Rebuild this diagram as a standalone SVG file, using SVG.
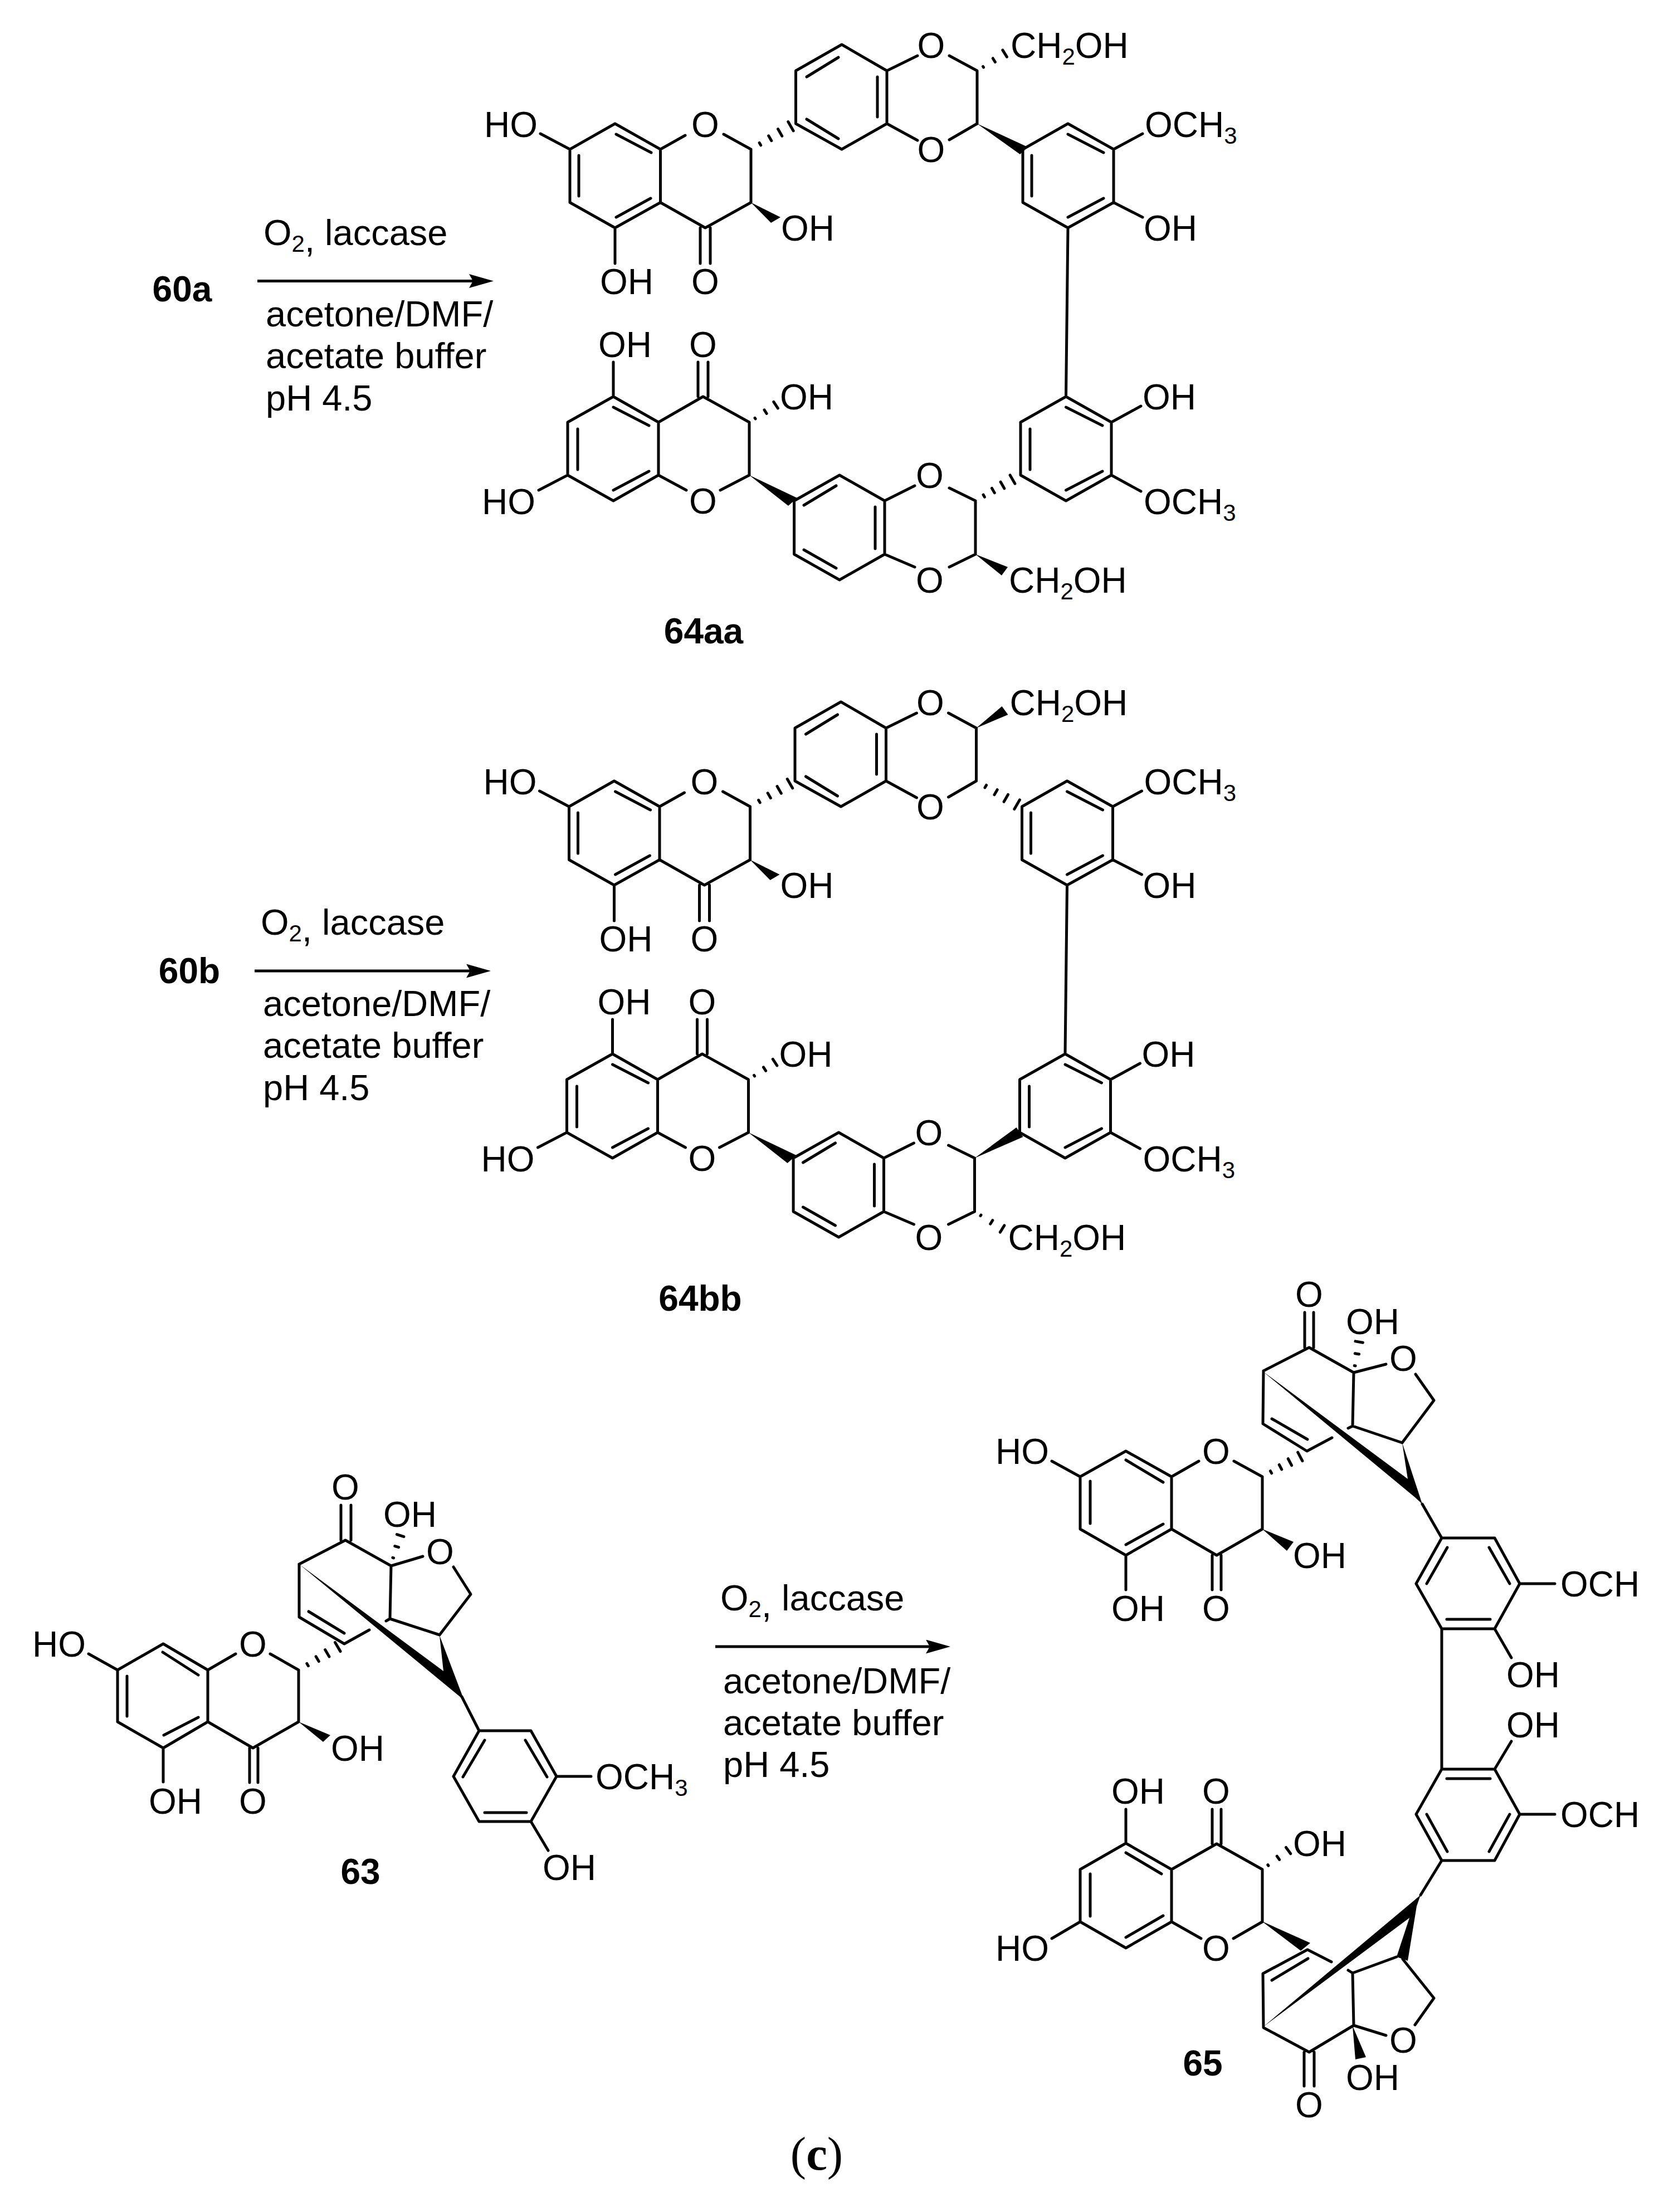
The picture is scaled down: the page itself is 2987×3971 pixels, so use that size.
<svg xmlns="http://www.w3.org/2000/svg" xmlns:xlink="http://www.w3.org/1999/xlink" width="2987" height="3971" viewBox="0 0 2987 3971">
<style>
text{font-family:"Liberation Sans",Arial,sans-serif;fill:#000}
.a{font-size:64px;text-anchor:middle}
.s{font-size:64px}
.r{font-size:65px}
.b{font-size:64px;font-weight:bold;text-anchor:middle}
.u{font-size:42px}
.c{font-family:"Liberation Serif","Times New Roman",serif;font-size:85px;text-anchor:middle}
.bond{fill:none;stroke:#000;stroke-width:5;stroke-linecap:round;stroke-linejoin:round}
.hash{fill:none;stroke:#000;stroke-width:5;stroke-linecap:round;vector-effect:non-scaling-stroke}
.arrow{fill:none;stroke:#000;stroke-width:5}
</style>
<defs>
<marker id="head" markerUnits="userSpaceOnUse" markerWidth="46" markerHeight="26" refX="7" refY="12.5" orient="auto"><path d="M0 0L44 12.5L0 25L7 12.5Z" fill="#000"/></marker>
<path id="h5" class="hash" d="M22 -3V3M46 -6V6M70 -8.5V8.5M96 -11V11"/>
<path id="h3" class="hash" d="M20 -1.5V1.5M55 -6V6M90 -11V11"/>
<path id="skel64" class="bond" d="M1023 268L1104 222L1185.5 268V363.5L1104 409L1023 363.5Z
M1106 241L1169 274M1039 279V352M1168 356L1106 390
M1185.5 268L1230 243M1348 268L1299 241M1348 268V363.5L1266 409L1185.5 363.5
M1257 409V473M1275 409V473M1104 409V473M1023 268L970 240
M1428.5 222V127L1511 80L1592 127V222L1511 268Z
M1448 138L1505 103M1575 138V210M1448 214L1505 249
M1592 127L1647 100M1592 222L1647 252M1754 127L1704 100M1754 222L1704 251M1754 127V222
M1836 268L1917 222L1999 268V363.5L1917 409L1836 363.5Z
M1917 241L1981 274M1852 279V352M1981 356L1917 390
M1999 268L2051 240M1999 363.5L2051 390M1917 409L1913.5 712
M1913.5 712L1995 758V853L1913.5 899L1832 853V758Z
M1913.5 731L1979 764M1979 846L1913.5 880M1849 770V843
M1995 758L2048 729M1995 853L2048 882
M1751 899L1704 876M1588 899L1642 872M1588 995L1642 1018M1751 995L1704 1018M1751 899V995
M1425.6 899L1507 853L1588 899V995L1507 1041L1425.6 995Z
M1443 907L1501 872M1571 910V985M1443 987L1501 1020
M1345 853V758L1262 712L1182 758M1345 853L1293 880M1182 853L1232 880
M1182 758L1101 712L1019 758V853L1101 899L1182 853Z
M1101 731L1165 764M1037 770V843M1165 846L1101 880
M1101 712V650M1253 712V650M1271 712V650M1019 853L967 880"/>
</defs>

<rect width="2987" height="3971" fill="#fff"/>

<g id="reaction-60a">
<text class="b" x="327" y="541">60a</text>
<line class="arrow" x1="462" y1="504.5" x2="849" y2="504.5" marker-end="url(#head)"/>
<text class="r" x="473" y="440">O<tspan class="u" dy="12">2</tspan><tspan>,</tspan><tspan dy="-12"> laccase</tspan></text>
<text class="r" x="477" y="586">acetone/DMF/</text>
<text class="r" x="477" y="661">acetate buffer</text>
<text class="r" x="477" y="737">pH 4.5</text>
</g>

<g id="compound-64aa">
<use href="#skel64" xlink:href="#skel64"/>
<use href="#h5" xlink:href="#h5" transform="translate(1348 268) rotate(-30) scale(.86)"/>
<use href="#h3" xlink:href="#h3" transform="translate(1754 127) rotate(-32) scale(.65)"/>
<use href="#h3" xlink:href="#h3" transform="translate(1345 758) rotate(-33) scale(.63)"/>
<use href="#h5" xlink:href="#h5" transform="translate(1751 899) rotate(-30) scale(.8)"/>
<polygon points="1348,363.5 1401,390 1384,400"/>
<polygon points="1754,222 1845,264 1831,277"/>
<polygon points="1345,853 1431,894 1415,908"/>
<polygon points="1751,995 1809,1018 1798,1033"/>
<text class="a" x="917" y="246">HO</text><text class="a" x="1266" y="246">O</text><text class="a" x="1450" y="432">OH</text><text class="a" x="1125" y="528">OH</text><text class="a" x="1266" y="528">O</text>
<text class="a" x="1671.5" y="104">O</text><text class="a" x="1671.5" y="291">O</text>
<text class="s" x="1814" y="104">CH<tspan class="u" dy="12">2</tspan><tspan dy="-12">OH</tspan></text>
<text class="s" x="2055" y="246">OCH<tspan class="u" dy="12">3</tspan></text>
<text class="a" x="2101" y="432">OH</text>
<text class="a" x="1262" y="641">O</text><text class="a" x="1122" y="641">OH</text><text class="a" x="1448" y="735">OH</text><text class="a" x="913" y="923">HO</text><text class="a" x="1262" y="922">O</text>
<text class="a" x="2099" y="735">OH</text>
<text class="s" x="2053" y="923">OCH<tspan class="u" dy="12">3</tspan></text>
<text class="a" x="1669" y="876">O</text><text class="a" x="1669" y="1064">O</text>
<text class="s" x="1811" y="1064">CH<tspan class="u" dy="12">2</tspan><tspan dy="-12">OH</tspan></text>
<text class="b" x="1263" y="1155">64aa</text>
</g>

<g id="reaction-60b">
<text class="b" x="340" y="1765">60b</text>
<line class="arrow" x1="457" y1="1743" x2="844" y2="1743" marker-end="url(#head)"/>
<text class="r" x="468" y="1678">O<tspan class="u" dy="12">2</tspan><tspan>,</tspan><tspan dy="-12"> laccase</tspan></text>
<text class="r" x="472" y="1824">acetone/DMF/</text>
<text class="r" x="472" y="1899">acetate buffer</text>
<text class="r" x="472" y="1975">pH 4.5</text>
</g>

<g id="compound-64bb">
<g transform="translate(-1.5 1180)">
<use href="#skel64" xlink:href="#skel64"/>
<use href="#h5" xlink:href="#h5" transform="translate(1348 268) rotate(-30) scale(.86)"/>
<use href="#h5" xlink:href="#h5" transform="translate(1754 222) rotate(30) scale(.88)"/>
<use href="#h3" xlink:href="#h3" transform="translate(1345 758) rotate(-33) scale(.63)"/>
<use href="#h3" xlink:href="#h3" transform="translate(1751 995) rotate(32) scale(.65)"/>
<polygon points="1348,363.5 1401,390 1384,400"/>
<polygon points="1754,127 1811,103 1800,88"/>
<polygon points="1345,853 1431,894 1415,908"/>
<polygon points="1751,899 1838,861 1826,844"/>
<text class="a" x="917" y="246">HO</text><text class="a" x="1266" y="246">O</text><text class="a" x="1450" y="432">OH</text><text class="a" x="1125" y="528">OH</text><text class="a" x="1266" y="528">O</text>
<text class="a" x="1671.5" y="104">O</text><text class="a" x="1671.5" y="291">O</text>
<text class="s" x="1814" y="104">CH<tspan class="u" dy="12">2</tspan><tspan dy="-12">OH</tspan></text>
<text class="s" x="2055" y="246">OCH<tspan class="u" dy="12">3</tspan></text>
<text class="a" x="2101" y="432">OH</text>
<text class="a" x="1262" y="641">O</text><text class="a" x="1122" y="641">OH</text><text class="a" x="1448" y="735">OH</text><text class="a" x="913" y="923">HO</text><text class="a" x="1262" y="922">O</text>
<text class="a" x="2099" y="735">OH</text>
<text class="s" x="2053" y="923">OCH<tspan class="u" dy="12">3</tspan></text>
<text class="a" x="1669" y="876">O</text><text class="a" x="1669" y="1064">O</text>
<text class="s" x="1811" y="1064">CH<tspan class="u" dy="12">2</tspan><tspan dy="-12">OH</tspan></text>
</g>
<text class="b" x="1257" y="2353">64bb</text>
</g>

<g id="compound-63">
<path class="bond" d="M211 2998L293 2951L373 2998V3091L293 3138L211 3091Z
M292 2966L356 3007M228 3009V3081M356 3083L294 3115
M373 2998L423 2969M536 2998L485 2969M211 2998L159 2969M536 2998V3091L454 3138L373 3091
M293 3138V3199M448 3138V3200M463 3138V3200
M537 2808V2903L618 2951L663 2926M554 2893L618 2932
M537 2808L620 2765L702 2811L700 2906L789 2935M693 2910L700 2906M612 2765V2702M630 2765V2702
M702 2811L759 2794M814 2813L845 2862L789 2935
M829 3046L860 3107
M860 3107H953L999 3189L953 3270H860L814 3189Z
M870 3124L831 3190M943 3124L982 3190M870 3254H945
M999 3189H1061M953 3270L984 3322"/>
<use href="#h5" xlink:href="#h5" transform="translate(536 2998) rotate(-30.5) scale(.85)"/>
<use href="#h3" xlink:href="#h3" transform="translate(702 2808) rotate(-72) scale(.6)"/>
<polygon points="536,3091 593,3115 580,3127"/>
<polygon points="537,2808 796,3000 789,2936 833,3052"/>
<text class="a" x="106" y="2974">HO</text><text class="a" x="454" y="2974">O</text><text class="a" x="642" y="3161">OH</text><text class="a" x="315" y="3256">OH</text><text class="a" x="454" y="3256">O</text>
<text class="a" x="620" y="2692">O</text><text class="a" x="736" y="2741">OH</text><text class="a" x="790" y="2808">O</text>
<text class="s" x="1069" y="3212">OCH<tspan class="u" dy="12">3</tspan></text>
<text class="a" x="1022" y="3375">OH</text>
<text class="b" x="647" y="3382">63</text>
</g>

<g id="reaction-63-65">
<line class="arrow" x1="1284" y1="2956" x2="1669" y2="2956" marker-end="url(#head)"/>
<text class="r" x="1293" y="2891">O<tspan class="u" dy="12">2</tspan><tspan>,</tspan><tspan dy="-12"> laccase</tspan></text>
<text class="r" x="1298" y="3040">acetone/DMF/</text>
<text class="r" x="1298" y="3115">acetate buffer</text>
<text class="r" x="1298" y="3190">pH 4.5</text>
</g>

<g id="compound-65">
<path class="bond" d="M1939 2651L2021 2605L2103 2651V2745L2021 2792L1939 2745Z
M2021 2621L2088 2661M1957 2659V2735M2088 2736L2021 2773
M2103 2651L2152 2623M2266 2651L2215 2623M1939 2651L1888 2623M2266 2651V2745L2184 2792L2103 2745
M2021 2792V2854M2176 2792V2854M2192 2792V2854
M2268 2461L2267 2556L2346 2605L2391 2581M2283 2547L2347 2584
M2268 2461L2350 2419L2430 2464L2428 2560L2517 2590M2420 2564L2428 2560M2342 2419V2356M2358 2419V2356
M2430 2464L2488 2449M2541 2467L2574 2514L2517 2590
M2553 2700L2588 2761
M2588 2761H2683L2728 2843L2683 2924H2588L2542 2843Z
M2598 2778L2561 2843M2673 2778L2710 2843M2597 2907H2675
M2728 2843H2791M2683 2924L2713 2976M2588 2924V3176
M2588 3176H2683L2728 3257L2683 3340H2588L2542 3257Z
M2597 3193H2675M2710 3257L2673 3324M2598 3324L2561 3257
M2683 3176L2713 3126M2728 3257H2791M2550 3402L2588 3340
M1939 3450L2021 3497L2103 3450V3356L2021 3309L1939 3356Z
M2021 3478L2088 3439M1957 3364V3440M2021 3326L2085 3364
M2103 3450L2156 3480M2266 3450L2214 3480M1939 3450L1888 3480M2266 3450V3356L2184 3310L2103 3356
M2021 3309V3248M2176 3310V3248M2192 3310V3248
M2390 3522L2347 3500L2267 3543L2268 3640L2350 3684L2430 3636M2348 3516L2283 3555
M2341 3684V3745M2359 3684V3745
M2430 3636L2488 3654M2540 3635L2574 3587L2518 3517M2507 3513L2428 3542L2430 3636M2420 3537L2428 3542"/>
<use href="#h5" xlink:href="#h5" transform="translate(2266 2651) rotate(-28) scale(.8)"/>
<use href="#h3" xlink:href="#h3" transform="translate(2430 2464) rotate(-80) scale(.62)"/>
<use href="#h3" xlink:href="#h3" transform="translate(2266 3356) rotate(-36) scale(.64)"/>
<polygon points="2266,2745 2322,2768 2310,2784"/>
<polygon points="2267,2462 2527,2655 2517,2590 2553,2700 2540,2688"/>
<polygon points="2267,3639 2550,3402 2543,3422 2527,3520 2507,3513 2530,3443"/>
<polygon points="2265,3449 2352,3488 2335,3502"/>
<polygon points="2428,3637 2452,3693 2433,3697"/>
<text class="a" x="1835" y="2628">HO</text><text class="a" x="2183" y="2628">O</text><text class="a" x="2369" y="2815">OH</text><text class="a" x="2043" y="2910">OH</text><text class="a" x="2183" y="2910">O</text>
<text class="a" x="2350" y="2346">O</text><text class="a" x="2464" y="2395">OH</text><text class="a" x="2519" y="2461">O</text>
<text class="s" x="2801" y="2866">OCH</text>
<text class="a" x="2752" y="3029">OH</text><text class="a" x="2752" y="3119">OH</text>
<text class="s" x="2801" y="3280">OCH</text>
<text class="a" x="2043" y="3238">OH</text><text class="a" x="2183" y="3238">O</text><text class="a" x="2369" y="3332">OH</text><text class="a" x="1835" y="3520">HO</text><text class="a" x="2183" y="3520">O</text>
<text class="a" x="2519" y="3685">O</text><text class="a" x="2464" y="3752">OH</text><text class="a" x="2350" y="3801">O</text>
<text class="b" x="2159" y="3726">65</text>
</g>

<text id="panel-label" class="c" x="1466" y="3895">(<tspan font-weight="bold">c</tspan>)</text>
</svg>
